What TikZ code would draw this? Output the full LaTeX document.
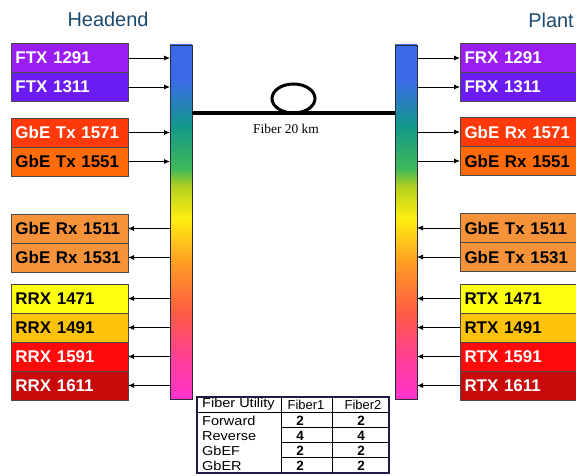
\documentclass[tikz,border=0pt]{standalone}
\usepackage{fontspec}
\setmainfont{Liberation Sans}
\newfontfamily\serifface{Liberation Serif}
\usetikzlibrary{arrows.meta,positioning,shapes.geometric}
\definecolor{titleblue}{HTML}{1E4A6E}
\definecolor{boxline}{HTML}{4A4A4A}
\definecolor{barline}{HTML}{2A2A3A}
\definecolor{tabline}{HTML}{221A4A}
\definecolor{ftxa}{HTML}{9A1EF2}
\definecolor{ftxb}{HTML}{6A1CF2}
\definecolor{gtxa}{HTML}{FF3A0A}
\definecolor{gtxb}{HTML}{FF6A0A}
\definecolor{grx}{HTML}{F5923A}
\definecolor{rxa}{HTML}{FFFF10}
\definecolor{rxb}{HTML}{FFC20A}
\definecolor{rxc}{HTML}{FF0A0A}
\definecolor{rxd}{HTML}{C80A0A}
\definecolor{specmag}{HTML}{FF33CC}
\definecolor{specpink}{HTML}{FF3D99}
\definecolor{specred}{HTML}{FF5A45}
\definecolor{specorange}{HTML}{FF9A25}
\definecolor{specyellow}{HTML}{FFEE10}
\definecolor{speclime}{HTML}{B5D020}
\definecolor{specgreen}{HTML}{40B858}
\definecolor{specteal}{HTML}{12998A}
\definecolor{specblue}{HTML}{3A6AE8}
\pgfdeclareverticalshading{spectrum}{100bp}{color(0bp)=(specmag); color(25bp)=(specmag);
  color(30.5bp)=(specpink); color(37bp)=(specred); color(44bp)=(specorange);
  color(50.5bp)=(specyellow); color(55bp)=(speclime); color(57.5bp)=(specgreen);
  color(63.5bp)=(specteal); color(70bp)=(specblue); color(100bp)=(specblue)}
\newcommand{\tabtext}[1]{\scalebox{1.12}[1]{#1}}
\tikzset{
  chan/.style 2 args={draw=boxline,fill=#1,text=#2,font=\fontsize{17}{19}\selectfont\bfseries,
    text width=108bp,inner xsep=4.5bp,inner ysep=0pt,minimum height=29bp,align=left,outer sep=0pt},
  bar/.style={draw=barline,shade,shading=spectrum,minimum width=22bp,minimum height=354bp,
    inner sep=0pt,outer sep=0pt},
  arr/.style={-{Latex[length=6bp,width=5bp]},line width=0.8bp,draw=black},
  side/.style={font=\fontsize{20}{22}\selectfont,text=titleblue},
  fiber/.style={line width=4bp,draw=black},
  coilnode/.style={ellipse,draw=black,line width=3bp,minimum width=43bp,minimum height=29bp,
    inner sep=0pt,outer sep=0pt},
  cell/.style={font=\fontsize{13}{14}\selectfont,inner sep=0pt},
  num/.style={cell,font=\fontsize{13.5}{14}\selectfont\bfseries},
  tabframe/.style={draw=tabline,line width=2bp},
  tabrule/.style={draw=black,line width=1bp},
}
\begin{document}
\begin{tikzpicture}[x=1bp,y=-1bp]
  \useasboundingbox (0,0) rectangle (576,476);
  \node[side] (head) at (108,19) {Headend};
  \node[side] (plant) at (551,20) {Plant};
  % wavelength bars
  \node[bar] (lbar) at (181,222) {};
  \node[bar] (rbar) at (406,222) {};
  % headend side
  \node[chan={ftxa}{white}] (ftx1291) at (69.5,58) {FTX 1291};
  \node[chan={ftxb}{white},below=0pt of ftx1291] (ftx1311) {FTX 1311};
  \node[chan={gtxa}{white}] (gtx1571) at (69.5,132.5) {GbE Tx 1571};
  \node[chan={gtxb}{black},below=0pt of gtx1571] (gtx1551) {GbE Tx 1551};
  \node[chan={grx}{black}] (grx1511) at (69.5,228.5) {GbE Rx 1511};
  \node[chan={grx}{black},below=0pt of grx1511] (grx1531) {GbE Rx 1531};
  \node[chan={rxa}{black}] (rrx1471) at (69.5,298.5) {RRX 1471};
  \node[chan={rxb}{black},below=0pt of rrx1471] (rrx1491) {RRX 1491};
  \node[chan={rxc}{white},below=0pt of rrx1491] (rrx1591) {RRX 1591};
  \node[chan={rxd}{white},below=0pt of rrx1591] (rrx1611) {RRX 1611};
  % plant side
  \node[chan={ftxa}{white}] (frx1291) at (518.5,58) {FRX 1291};
  \node[chan={ftxb}{white},below=0pt of frx1291] (frx1311) {FRX 1311};
  \node[chan={gtxa}{white}] (prx1571) at (518.5,132) {GbE Rx 1571};
  \node[chan={gtxb}{black},below=0pt of prx1571] (prx1551) {GbE Rx 1551};
  \node[chan={grx}{black}] (ptx1511) at (518.5,228) {GbE Tx 1511};
  \node[chan={grx}{black},below=0pt of ptx1511] (ptx1531) {GbE Tx 1531};
  \node[chan={rxa}{black}] (rtx1471) at (518.5,298.5) {RTX 1471};
  \node[chan={rxb}{black},below=0pt of rtx1471] (rtx1491) {RTX 1491};
  \node[chan={rxc}{white},below=0pt of rtx1491] (rtx1591) {RTX 1591};
  \node[chan={rxd}{white},below=0pt of rtx1591] (rtx1611) {RTX 1611};
  % arrows
  \foreach \n in {ftx1291,ftx1311,gtx1571,gtx1551}
    \draw[arr] (\n) -- (\n -| lbar.west);
  \foreach \n in {grx1511,grx1531,rrx1471,rrx1491,rrx1591,rrx1611}
    \draw[arr] (\n -| lbar.west) -- (\n);
  \foreach \n in {frx1291,frx1311,prx1571,prx1551}
    \draw[arr] (\n -| rbar.east) -- (\n);
  \foreach \n in {ptx1511,ptx1531,rtx1471,rtx1491,rtx1591,rtx1611}
    \draw[arr] (\n) -- (\n -| rbar.east);
  % fiber span
  \node[coilnode] (coil) at (293.5,98.5) {};
  \draw[fiber] (coil.south -| lbar.east) -- (coil.south -| rbar.west);
  \node[font=\serifface\fontsize{13.5}{15}\selectfont] (fiberlbl) at (286,129) {Fiber 20 km};
  % fiber utility table
  \draw[tabframe] (197,397) rectangle (389,473);
  \draw[tabrule] (197,412) -- (389,412);
  \draw[tabrule] (281,397) -- (281,473);
  \draw[tabrule] (332,397) -- (332,473);
  \foreach \y in {427,442,457}
    \draw[tabrule] (281,\y) -- (389,\y);
  \node[cell,anchor=west] (hutil) at (202,404.5) {\tabtext{Fiber Utility}};
  \node[cell] (hfa) at (306,404.5) {Fiber1};
  \node[cell] (hfb) at (363,404.5) {Fiber2};
  \foreach \r/\y/\a in {Forward/420.5/2,Reverse/436/4,GbEF/451/2,GbER/466/2}{
    \node[cell,anchor=west] (row\r) at (202,\y) {\tabtext{\r}};
    \node[num] (fa\r) at (300,\y) {\a};
    \node[num] (fb\r) at (361,\y) {\a};
  }
\end{tikzpicture}
\end{document}
